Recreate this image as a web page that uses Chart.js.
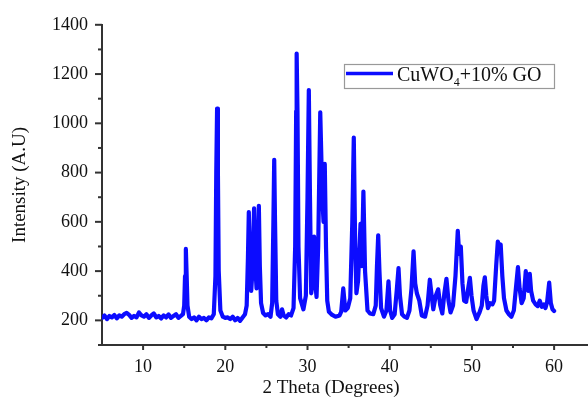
<!DOCTYPE html>
<html>
<head>
<meta charset="utf-8">
<script src="https://cdn.jsdelivr.net/npm/chart.js@4.4.1/dist/chart.umd.min.js"></script>
<style>
html,body{margin:0;padding:0;background:#fff;}
#wrap{width:588px;height:397px;position:relative;}
</style>
</head>
<body>
<div id="wrap"><canvas id="c" width="588" height="397"></canvas></div>
<script>
// ---- data ----
const twoTheta = [
 5.0,5.3,5.6,5.9,6.2,6.5,6.8,7.1,7.4,7.7,8.0,8.3,8.6,8.9,9.2,9.5,9.8,10.1,10.4,10.7,
 11.0,11.3,11.6,11.9,12.2,12.5,12.8,13.1,13.4,13.7,14.0,14.3,14.6,14.85,
 15.0,15.1,15.2,15.3,15.4,15.6,15.9,16.2,16.5,16.8,17.1,17.4,17.7,18.0,18.3,18.6,
 18.8,18.9,19.0,19.1,19.2,19.4,19.7,20.0,20.3,20.6,20.9,21.2,21.5,21.8,22.1,22.4,
 22.6,22.75,22.86,22.98,23.15,23.3,23.5,23.65,23.8,23.95,24.08,24.2,24.35,24.6,24.9,25.2,25.5,
 25.7,25.85,25.95,26.05,26.2,26.4,26.7,26.9,27.1,27.4,27.7,28.0,28.3,
 28.5,28.62,28.68,28.78,28.9,29.1,29.5,29.8,30.0,30.16,30.3,30.45,30.6,30.8,30.95,31.1,
 31.3,31.55,31.8,31.95,32.1,32.25,32.4,32.6,33.0,33.4,33.9,34.1,34.35,34.6,34.9,35.2,
 35.45,35.63,35.8,35.95,36.15,36.45,36.6,36.8,37.0,37.3,37.6,38.0,38.3,38.45,38.6,38.75,38.95,
 39.3,39.6,39.85,40.05,40.3,40.6,40.85,41.07,41.25,41.5,41.8,42.1,42.4,42.65,42.9,43.1,43.3,43.6,43.9,
 44.3,44.6,44.88,45.1,45.3,45.6,45.9,46.15,46.4,46.65,46.9,47.15,47.4,47.7,48.0,48.28,48.45,48.65,48.85,
 49.05,49.3,49.55,49.75,49.95,50.2,50.56,50.9,51.2,51.4,51.57,51.75,51.95,52.2,52.5,52.7,52.95,
 53.15,53.35,53.5,53.7,53.9,54.2,54.5,54.8,55.1,55.35,55.6,55.8,56.05,56.3,56.55,56.75,56.85,57.04,
 57.2,57.45,57.75,58.0,58.25,58.5,58.75,58.95,59.15,59.4,59.6,59.8,60.0
];
const intensity = [
 210,220,205,218,212,222,208,220,215,225,230,222,210,218,212,232,220,215,225,210,
 220,228,212,218,208,220,212,224,210,218,225,210,218,225,
 260,380,490,380,260,215,205,212,200,215,205,210,200,212,208,225,
 380,800,1060,800,400,240,215,210,212,205,215,200,210,198,212,225,
 260,450,640,450,320,400,655,420,330,450,665,420,270,230,220,225,215,
 270,600,852,600,280,225,215,245,220,212,225,220,250,
 500,1050,1283,1050,500,290,245,300,700,1135,700,310,350,540,350,295,
 500,1045,700,600,835,500,280,235,222,215,220,235,330,240,250,290,
 600,942,500,310,360,592,420,723,400,240,228,225,260,420,545,400,250,
 215,240,358,240,210,225,320,412,300,225,215,210,240,330,480,350,310,280,220,
 215,260,365,300,245,300,326,260,228,310,369,280,232,260,380,563,470,500,350,
 280,275,330,373,300,240,205,230,260,340,375,300,250,270,265,280,420,
 520,490,508,380,290,240,225,215,240,330,416,330,270,290,400,330,320,389,
 320,280,265,258,280,255,265,250,275,353,270,245,238
];
const seriesLabel = 'CuWO4+10% GO';
const xTickValues = [10,20,30,40,50,60];
const yTickValues = [200,400,600,800,1000,1200,1400];
const xTitle = '2 Theta (Degrees)';
const yTitle = 'Intensity (A.U)';

const FONT = "'Liberation Serif','Times New Roman',serif";
const points = twoTheta.map((x,i)=>({x:x,y:intensity[i]}));

const tickPlugin = {
  id:'customTicks',
  afterDraw(chart){
    const ctx = chart.ctx, xs = chart.scales.x, ys = chart.scales.y;
    const ca = chart.chartArea;
    ctx.save();
    ctx.strokeStyle = '#333'; ctx.lineWidth = 2;
    for (let v = 100; v <= 1400; v += 100) {
      const p = ys.getPixelForValue(v);
      const len = (v % 200 === 0) ? 7 : 4;
      ctx.beginPath(); ctx.moveTo(ca.left, p); ctx.lineTo(ca.left - len, p); ctx.stroke();
    }
    for (let v = 10; v <= 60; v += 5) {
      const p = xs.getPixelForValue(v);
      const len = (v % 10 === 0) ? 5 : 3;
      ctx.beginPath(); ctx.moveTo(p, ca.bottom); ctx.lineTo(p, ca.bottom + len); ctx.stroke();
    }
    ctx.fillStyle = '#111';
    ctx.font = "19px " + FONT;
    ctx.textAlign = 'center'; ctx.textBaseline = 'alphabetic';
    const cx = (xs.getPixelForValue(5) + xs.getPixelForValue(60)) / 2 + 3;
    ctx.fillText(xTitle, cx, 393);
    const ds = chart.data.datasets[0];
    ctx.strokeStyle = '#999'; ctx.lineWidth = 1.2;
    ctx.strokeRect(344.5, 64.5, 210, 24);
    ctx.strokeStyle = ds.borderColor; ctx.lineWidth = 3.5;
    ctx.beginPath(); ctx.moveTo(346, 73.5); ctx.lineTo(393, 73.5); ctx.stroke();
    ctx.fillStyle = '#111'; ctx.textAlign = 'left';
    const lab = ds.label;
    const a = lab.slice(0,4), sub = lab.slice(4,5), b = lab.slice(5);
    let tx = 397;
    ctx.font = "20px " + FONT;
    ctx.fillText(a, tx, 81); tx += ctx.measureText(a).width;
    ctx.font = "12px " + FONT;
    ctx.fillText(sub, tx, 86); tx += ctx.measureText(sub).width;
    ctx.font = "20px " + FONT;
    ctx.fillText(b, tx, 81);
    ctx.restore();
  }
};

new Chart(document.getElementById('c'), {
  type:'line',
  data:{datasets:[{
    label: seriesLabel,
    data: points,
    borderColor:'rgb(12,12,255)',
    borderWidth:4.2,
    borderJoinStyle:'round',
    borderCapStyle:'round',
    pointRadius:0,
    tension:0,
    fill:false
  }]},
  options:{
    responsive:false,
    animation:false,
    layout:{padding:{top:24,right:1,left:0,bottom:0}},
    plugins:{legend:{display:false},tooltip:{enabled:false}},
    scales:{
      x:{
        type:'linear', min:5, max:64,
        afterBuildTicks(s){ s.ticks = xTickValues.map(v=>({value:v})); },
        afterFit(s){ s.height = 52; },
        grid:{display:false, drawTicks:false},
        border:{display:true,color:'#333',width:2},
        ticks:{color:'#111',font:{family:FONT,size:18},padding:11,maxRotation:0,autoSkip:false,
               callback:v=>String(v)},
        title:{display:false}
      },
      y:{
        min:100, max:1400,
        afterBuildTicks(s){ s.ticks = yTickValues.map(v=>({value:v})); },
        afterFit(s){ s.width = 102; },
        grid:{display:false, drawTicks:false},
        border:{display:true,color:'#333',width:2},
        ticks:{color:'#111',font:{family:FONT,size:18},padding:14,autoSkip:false,
               callback:v=>String(v)},
        title:{display:true,text:yTitle,color:'#111',font:{family:FONT,size:19},padding:{top:9,bottom:0}}
      }
    }
  },
  plugins:[tickPlugin]
});
</script>
</body>
</html>
